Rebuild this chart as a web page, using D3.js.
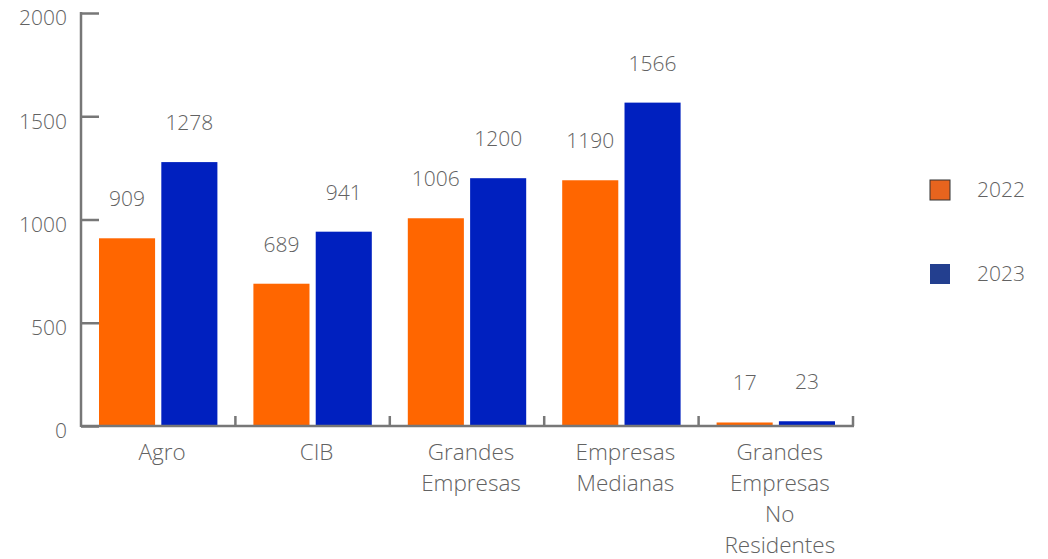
<!DOCTYPE html>
<html><head><meta charset="utf-8">
<script src="https://cdn.jsdelivr.net/npm/d3@7"></script>
<style>
body{margin:0;background:#fff;}
text{font-family:"Open Sans",sans-serif;font-weight:300;fill:#626262;}
</style></head>
<body><svg id="c" width="1048" height="559"></svg>
<script>
const categories = [["Agro"],["CIB"],["Grandes","Empresas"],["Empresas","Medianas"],["Grandes","Empresas","No","Residentes"]];
const seriesNames = ["2022","2023"];
const values2022 = [909,689,1006,1190,17];
const values2023 = [1278,941,1200,1566,23];
const yTicks = [0,500,1000,1500,2000];
const barColors = ["#FF6600","#0020BF"];
const legendColors = ["#E8641E","#233F8F"];

const svg = d3.select("#c");
const x0 = 81, x1 = 853, yTop = 13, yBase = 426;
const x = d3.scaleBand().domain(d3.range(categories.length)).range([x0,x1]).paddingInner(0).paddingOuter(0);
const y = d3.scaleLinear().domain([0,2000]).range([yBase,yTop]);
const inner = d3.scaleBand().domain([0,1]).range([18, x.bandwidth()-18]).paddingInner(0.1);

// y axis
const yAxis = d3.axisRight(y).tickValues(yTicks).tickSize(18).tickFormat("");
const ga = svg.append("g").attr("transform",`translate(${x0},0)`).call(yAxis);
ga.select(".domain").remove();
ga.selectAll("line").attr("stroke","#777").attr("stroke-width",2.5);
svg.append("line").attr("x1",x0).attr("x2",x0).attr("y1",yTop-1).attr("y2",yBase+1).attr("stroke","#777").attr("stroke-width",2.5);
svg.append("g").selectAll("text").data(yTicks).join("text")
  .attr("x",67).attr("y",d=>y(d)+5).attr("dy","0.35em").attr("text-anchor","end")
  .attr("font-size",21).text(d=>d);

// bars
const series = [values2022, values2023];
series.forEach((vals,si)=>{
  svg.append("g").selectAll("rect").data(vals).join("rect")
    .attr("x",(d,i)=>x(i)+inner(si)).attr("width",inner.bandwidth())
    .attr("y",d=>y(d)).attr("height",d=>yBase-y(d)).attr("fill",barColors[si]);
  svg.append("g").selectAll("text").data(vals).join("text")
    .attr("x",(d,i)=>x(i)+inner(si)+inner.bandwidth()/2).attr("y",d=>y(d)-32)
    .attr("text-anchor","middle").attr("font-size",21).text(d=>d);
});

// x axis
svg.append("line").attr("x1",x0).attr("x2",x1+1).attr("y1",yBase).attr("y2",yBase).attr("stroke","#777").attr("stroke-width",2.5);
const bounds = d3.range(1,categories.length+1).map(i=>x0+i*x.bandwidth());
svg.append("g").selectAll("line").data(bounds).join("line")
  .attr("x1",d=>d).attr("x2",d=>d).attr("y1",yBase-10).attr("y2",yBase).attr("stroke","#777").attr("stroke-width",2.5);
categories.forEach((lines,i)=>{
  const t = svg.append("text").attr("text-anchor","middle").attr("font-size",22.5);
  lines.forEach((l,j)=>t.append("tspan").attr("x",x(i)+x.bandwidth()/2+4).attr("y",460+j*31).text(l));
});

// legend
seriesNames.forEach((s,i)=>{
  const ly = 190 + i*84;
  svg.append("rect").attr("x",930).attr("y",ly-10).attr("width",20).attr("height",20)
    .attr("fill",legendColors[i]).attr("stroke",i===0?"#333":"none").attr("stroke-width",1);
  svg.append("text").attr("x",977).attr("y",ly).attr("dy","0.35em").attr("font-size",21).text(s);
});
</script></body></html>
